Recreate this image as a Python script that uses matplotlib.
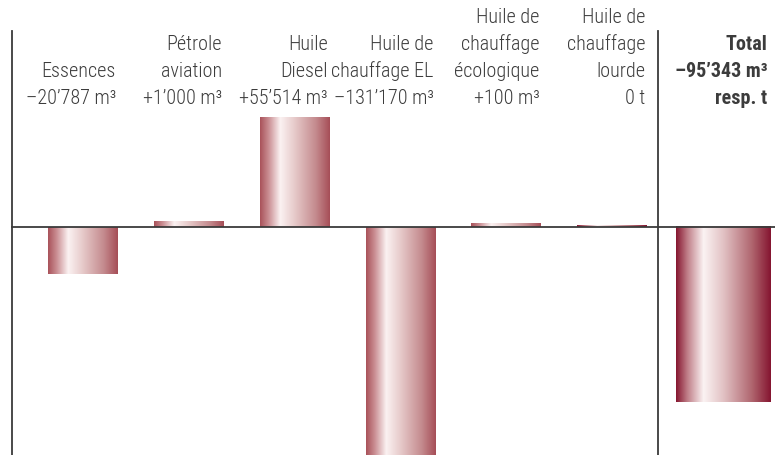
import matplotlib
matplotlib.use("Agg")
from matplotlib import pyplot as plt
from matplotlib.colors import LinearSegmentedColormap
import numpy as np

# bar heights as drawn in the picture (m3), labels as printed
categories = ["Essences", "Pétrole aviation", "Huile Diesel", "Huile de chauffage EL",
              "Huile de chauffage écologique", "Huile de chauffage lourde"]
heights = [-23900, 3000, 55500, -131170, 2000, 1000]
total_height = -89100

labels = [
    ["Essences", "–20’787 m³"],
    ["Pétrole", "aviation", "+1’000 m³"],
    ["Huile", "Diesel", "+55’514 m³"],
    ["Huile de", "chauffage EL", "–131’170 m³"],
    ["Huile de", "chauffage", "écologique", "+100 m³"],
    ["Huile de", "chauffage", "lourde", "0 t"],
]
total_label = ["Total", "–95’343 m³", "resp. t"]

plt.rcParams['font.family'] = ['Roboto Condensed', 'DejaVu Sans']

light = LinearSegmentedColormap.from_list("light", [
    (0.0, "#a9525a"), (0.12, "#c98c91"), (0.29, "#fbf2f2"),
    (0.5, "#e6c9c9"), (0.8, "#c48a8e"), (1.0, "#a64e57")])
dark = LinearSegmentedColormap.from_list("dark", [
    (0.0, "#861630"), (0.12, "#c07f88"), (0.29, "#fbf3f3"),
    (0.5, "#e2c2c4"), (0.8, "#b0666f"), (1.0, "#851530")])
grad = np.linspace(0, 1, 256).reshape(1, -1)

fig = plt.figure(figsize=(7.75, 4.56), dpi=100)
ax = fig.add_axes([0, 0, 1, 1])
ax.set_axis_off()

x = np.arange(len(categories))
total_x = 6.05
bars = ax.bar(x, heights, width=0.655, color="none")
tbar = ax.bar([total_x], [total_height], width=0.89, color="none")

for i, b in enumerate(list(bars) + list(tbar)):
    x0, y0 = b.get_x(), b.get_y()
    w, h = b.get_width(), b.get_height()
    cm = dark if i >= 5 else light
    ax.imshow(grad, cmap=cm, aspect="auto", extent=[x0, x0 + w, y0, y0 + h],
              interpolation="bilinear", zorder=2)

ymax = 116000
ax.set_xlim(-0.779, 6.539)
ax.set_ylim(-ymax, ymax)

line_col = "#3a3a3a"
ax.axhline(0, xmin=(-0.67 + 0.779) / 7.318, xmax=1, color=line_col, lw=1.3, zorder=3)
ax.plot([-0.67, -0.67], [99800, -ymax], color=line_col, lw=1.3, zorder=3)
ax.plot([5.43, 5.43], [99800, -ymax], color=line_col, lw=1.3, zorder=3)

# text lines, bottom aligned, baseline pitch 27 px
trans = ax.get_xaxis_transform()
for b, lines in zip(bars, labels):
    xr = b.get_x() + b.get_width() - 0.01
    n = len(lines)
    for k, t in enumerate(lines):
        ypx = 104 - 27 * (n - 1 - k)
        ax.text(xr, 1 - ypx / 456, t, transform=trans, ha="right", va="baseline",
                fontsize=14.5, color="#3c3c3c", fontweight="light")

b = tbar[0]
xr = b.get_x() + b.get_width() - 0.03
for k, t in enumerate(total_label):
    ypx = 104 - 27 * (len(total_label) - 1 - k)
    ax.text(xr, 1 - ypx / 456, t, transform=trans, ha="right", va="baseline",
            fontsize=14.5, color="#3c3c3c", fontweight="bold")

fig.savefig("out.png", dpi=100)
